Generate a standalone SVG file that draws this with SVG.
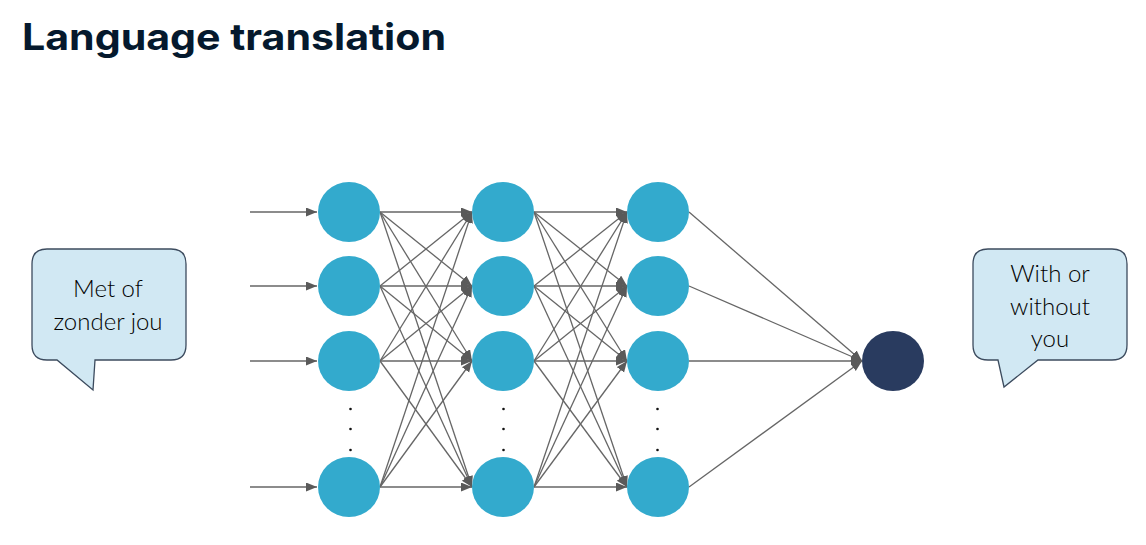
<svg xmlns="http://www.w3.org/2000/svg" width="1146" height="545" viewBox="0 0 1146 545">
<style>
.n{fill:#33aacd}
.out{fill:#293b5f}
.e line{stroke:#666;stroke-width:1.3;fill:none}
.bub{fill:#d1e8f3;stroke:#3c4b5e;stroke-width:1.3}
.bt{font-family:Lato,"Open Sans",sans-serif;font-weight:300;font-size:24px;fill:#000;text-anchor:middle}
.dot{fill:#111}
</style>
<defs>
<marker id="ah" markerUnits="userSpaceOnUse" markerWidth="12" markerHeight="10" refX="11" refY="4.5" orient="auto">
<path d="M0,0 L11,4.5 L0,9 z" fill="#5a5a5a"/>
</marker>
</defs>
<rect width="1146" height="545" fill="#fff"/>
<text x="22" y="50" font-family="Inter,'Open Sans',sans-serif" font-weight="700" font-size="37" fill="#05192d" textLength="424" lengthAdjust="spacingAndGlyphs">Language translation</text>

<g id="connectors" class="e">
<line x1="250" y1="212" x2="317" y2="212" marker-end="url(#ah)"/>
<line x1="250" y1="286" x2="317" y2="286" marker-end="url(#ah)"/>
<line x1="250" y1="361" x2="317" y2="361" marker-end="url(#ah)"/>
<line x1="250" y1="487" x2="317" y2="487" marker-end="url(#ah)"/>

<line x1="380" y1="212" x2="472" y2="212" marker-end="url(#ah)"/>
<line x1="380" y1="212" x2="472" y2="286" marker-end="url(#ah)"/>
<line x1="380" y1="212" x2="472" y2="361" marker-end="url(#ah)"/>
<line x1="380" y1="212" x2="472" y2="487" marker-end="url(#ah)"/>
<line x1="380" y1="286" x2="472" y2="212" marker-end="url(#ah)"/>
<line x1="380" y1="286" x2="472" y2="286" marker-end="url(#ah)"/>
<line x1="380" y1="286" x2="472" y2="361" marker-end="url(#ah)"/>
<line x1="380" y1="286" x2="472" y2="487" marker-end="url(#ah)"/>
<line x1="380" y1="361" x2="472" y2="212" marker-end="url(#ah)"/>
<line x1="380" y1="361" x2="472" y2="286" marker-end="url(#ah)"/>
<line x1="380" y1="361" x2="472" y2="361" marker-end="url(#ah)"/>
<line x1="380" y1="361" x2="472" y2="487" marker-end="url(#ah)"/>
<line x1="380" y1="487" x2="472" y2="212" marker-end="url(#ah)"/>
<line x1="380" y1="487" x2="472" y2="286" marker-end="url(#ah)"/>
<line x1="380" y1="487" x2="472" y2="361" marker-end="url(#ah)"/>
<line x1="380" y1="487" x2="472" y2="487" marker-end="url(#ah)"/>

<line x1="534" y1="212" x2="627" y2="212" marker-end="url(#ah)"/>
<line x1="534" y1="212" x2="627" y2="286" marker-end="url(#ah)"/>
<line x1="534" y1="212" x2="627" y2="361" marker-end="url(#ah)"/>
<line x1="534" y1="212" x2="627" y2="487" marker-end="url(#ah)"/>
<line x1="534" y1="286" x2="627" y2="212" marker-end="url(#ah)"/>
<line x1="534" y1="286" x2="627" y2="286" marker-end="url(#ah)"/>
<line x1="534" y1="286" x2="627" y2="361" marker-end="url(#ah)"/>
<line x1="534" y1="286" x2="627" y2="487" marker-end="url(#ah)"/>
<line x1="534" y1="361" x2="627" y2="212" marker-end="url(#ah)"/>
<line x1="534" y1="361" x2="627" y2="286" marker-end="url(#ah)"/>
<line x1="534" y1="361" x2="627" y2="361" marker-end="url(#ah)"/>
<line x1="534" y1="361" x2="627" y2="487" marker-end="url(#ah)"/>
<line x1="534" y1="487" x2="627" y2="212" marker-end="url(#ah)"/>
<line x1="534" y1="487" x2="627" y2="286" marker-end="url(#ah)"/>
<line x1="534" y1="487" x2="627" y2="361" marker-end="url(#ah)"/>
<line x1="534" y1="487" x2="627" y2="487" marker-end="url(#ah)"/>

<line x1="689" y1="212" x2="862" y2="361" marker-end="url(#ah)"/>
<line x1="689" y1="286" x2="862" y2="361" marker-end="url(#ah)"/>
<line x1="689" y1="361" x2="862" y2="361" marker-end="url(#ah)"/>
<line x1="689" y1="487" x2="862" y2="361" marker-end="url(#ah)"/>
</g>

<g id="layer1">
<ellipse id="n1a" class="n" cx="349" cy="212" rx="31" ry="30"/>
<ellipse id="n1b" class="n" cx="349" cy="286" rx="31" ry="30"/>
<ellipse id="n1c" class="n" cx="349" cy="361" rx="31" ry="30"/>
<ellipse id="n1d" class="n" cx="349" cy="487" rx="31" ry="30"/>
<circle class="dot" cx="350.5" cy="409" r="1.3"/>
<circle class="dot" cx="350.5" cy="429" r="1.3"/>
<circle class="dot" cx="350.5" cy="450" r="1.3"/>
</g>
<g id="layer2">
<ellipse id="n2a" class="n" cx="503" cy="212" rx="31" ry="30"/>
<ellipse id="n2b" class="n" cx="503" cy="286" rx="31" ry="30"/>
<ellipse id="n2c" class="n" cx="503" cy="361" rx="31" ry="30"/>
<ellipse id="n2d" class="n" cx="503" cy="487" rx="31" ry="30"/>
<circle class="dot" cx="503.5" cy="409" r="1.3"/>
<circle class="dot" cx="503.5" cy="429" r="1.3"/>
<circle class="dot" cx="503.5" cy="450" r="1.3"/>
</g>
<g id="layer3">
<ellipse id="n3a" class="n" cx="658" cy="212" rx="31" ry="30"/>
<ellipse id="n3b" class="n" cx="658" cy="286" rx="31" ry="30"/>
<ellipse id="n3c" class="n" cx="658" cy="361" rx="31" ry="30"/>
<ellipse id="n3d" class="n" cx="658" cy="487" rx="31" ry="30"/>
<circle class="dot" cx="657.5" cy="409" r="1.3"/>
<circle class="dot" cx="657.5" cy="429" r="1.3"/>
<circle class="dot" cx="657.5" cy="450" r="1.3"/>
</g>
<g id="output">
<ellipse class="out" cx="893" cy="361" rx="31" ry="30"/>
</g>

<g id="bubble-left">
<path class="bub" d="M47,249 H171 Q186,249 186,264 V345 Q186,360 171,360 H95 L93,390 L57,360 H47 Q32,360 32,345 V264 Q32,249 47,249 Z"/>
<text class="bt" x="108" y="297">Met of</text>
<text class="bt" x="108" y="330">zonder jou</text>
</g>
<g id="bubble-right">
<path class="bub" d="M988,249 H1112 Q1127,249 1127,264 V345 Q1127,360 1112,360 H1038 L1004,387 L998,360 H988 Q973,360 973,345 V264 Q973,249 988,249 Z"/>
<text class="bt" x="1050" y="282">With or</text>
<text class="bt" x="1050" y="314.5">without</text>
<text class="bt" x="1050" y="347">you</text>
</g>
</svg>
